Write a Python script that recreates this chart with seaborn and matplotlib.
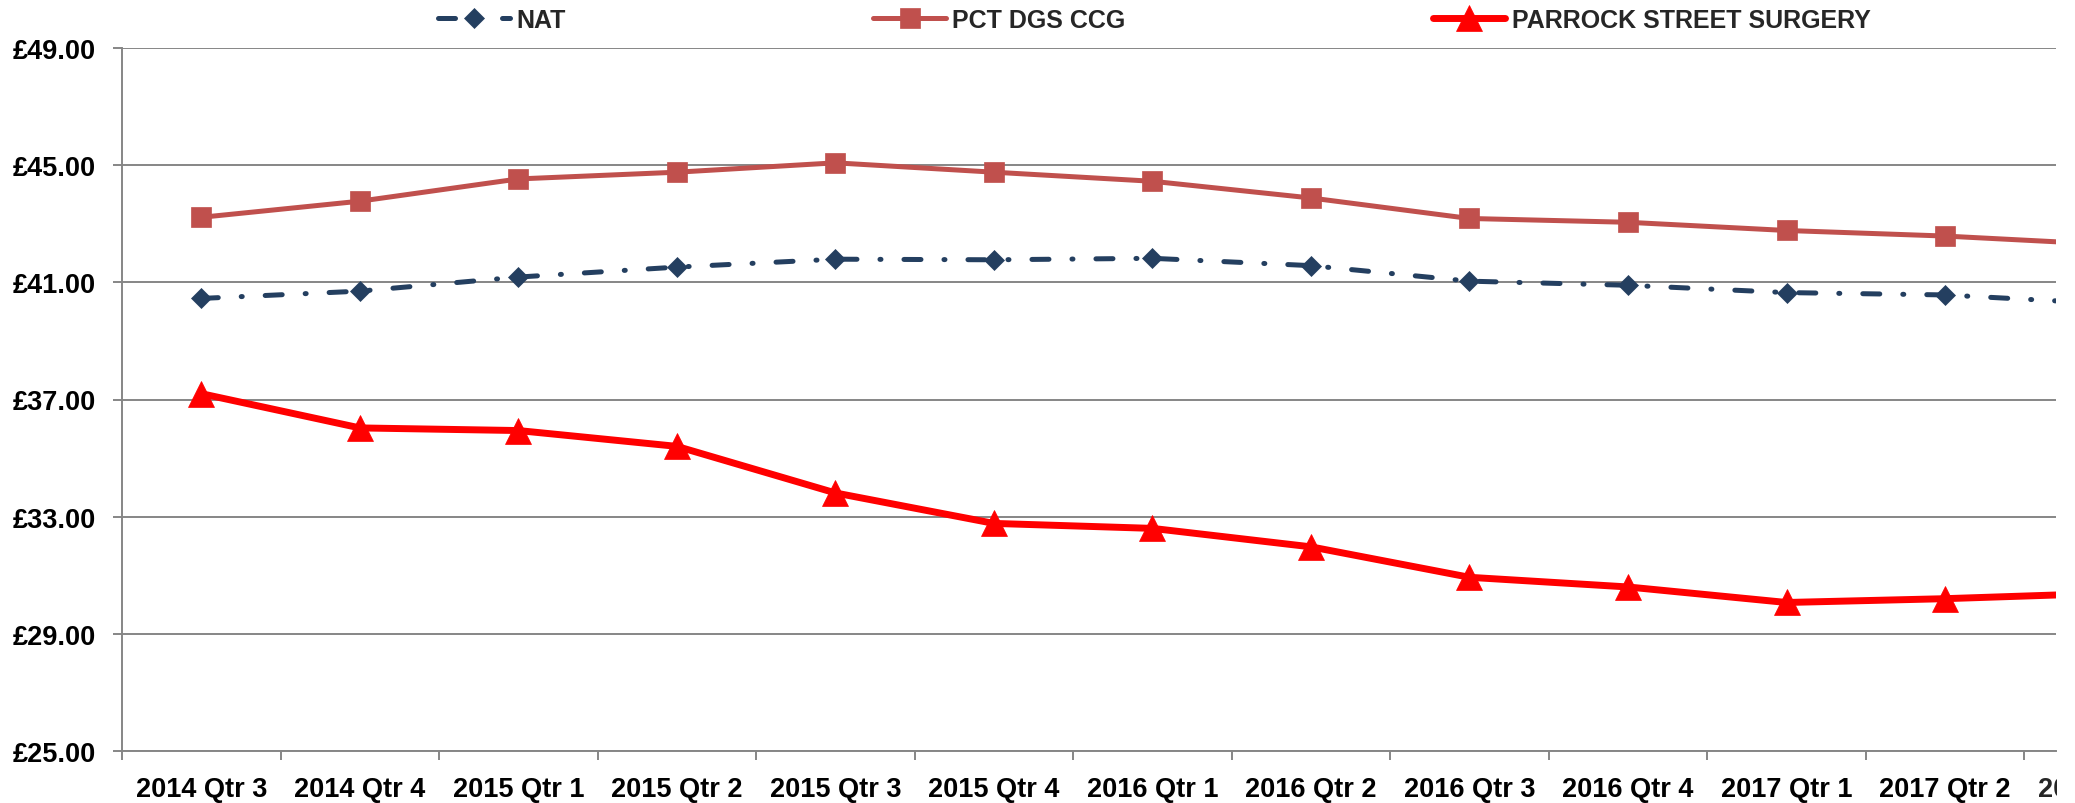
import matplotlib
matplotlib.use('Agg')
import matplotlib.pyplot as plt
from matplotlib.patches import Rectangle
import seaborn as sns
import numpy as np
import pandas as pd

# quarters (the last one is cut off at the right edge of the original chart)
quarters = ['2014 Qtr 3', '2014 Qtr 4', '2015 Qtr 1', '2015 Qtr 2', '2015 Qtr 3',
            '2015 Qtr 4', '2016 Qtr 1', '2016 Qtr 2', '2016 Qtr 3', '2016 Qtr 4',
            '2017 Qtr 1', '2017 Qtr 2', '2017 Qtr 3']

nat = [40.45, 40.70, 41.18, 41.52, 41.79, 41.77, 41.82, 41.57, 41.04, 40.90, 40.65, 40.57, 40.28]
pct = [43.22, 43.77, 44.53, 44.76, 45.08, 44.76, 44.45, 43.88, 43.18, 43.05, 42.77, 42.58, 42.30]
parrock = [37.20, 36.03, 35.94, 35.40, 33.81, 32.77, 32.60, 31.97, 30.93, 30.60, 30.07, 30.20, 30.38]

y_ticks = [25, 29, 33, 37, 41, 45, 49]

sns.set_theme(style='white')
plt.rcParams['font.family'] = ['Liberation Sans', 'DejaVu Sans']
plt.rcParams['font.weight'] = 'bold'

GRID = '#868686'
W, H = 2075, 804
TICK_FS = 19.5

fig = plt.figure(figsize=(W / 100, H / 100), dpi=100)
ax = fig.add_axes([122 / W, 1 - 752 / H, (2056 - 122) / W, (752 - 49) / H])

pos = np.arange(len(quarters))

sns.lineplot(x=pos, y=nat, ax=ax, color='#243F60', lw=3.6,
             linestyle=(0, (3.4, 4.6, 0.2, 4.6)), dash_capstyle='round',
             marker='D', markersize=9.7, markeredgecolor='#243F60',
             markeredgewidth=0.5, label='NAT', errorbar=None)
sns.lineplot(x=pos, y=pct, ax=ax, color='#C0504D', lw=3.6,
             marker='s', markersize=14, markeredgecolor='#C0504D',
             markeredgewidth=0.5, label='PCT DGS CCG', errorbar=None)
sns.lineplot(x=pos, y=parrock, ax=ax, color='#FF0000', lw=5,
             marker='^', markersize=19, markeredgecolor='#FF0000',
             markeredgewidth=0.5, label='PARROCK STREET SURGERY', errorbar=None)

handles, labels = ax.get_legend_handles_labels()
if ax.get_legend() is not None:
    ax.get_legend().remove()

ax.set_xlim(-0.5, 11.7)
ax.set_ylim(25, 49)

# y axis
ax.set_yticks(y_ticks)
ax.set_yticklabels([f'£{v:.2f}' for v in y_ticks], fontsize=TICK_FS, fontweight='bold')
ax.yaxis.grid(True, color=GRID, lw=1.4)
ax.xaxis.grid(False)
ax.tick_params(axis='y', length=6.5, width=1.4, color=GRID, direction='out',
               pad=12, left=True, labelcolor='black')

# x axis: tick marks between categories, labels at category centres
ax.set_xticks(np.arange(-0.5, 12, 1))
ax.set_xticklabels([])
ax.set_xticks(pos[:12], minor=True)
ax.set_xticklabels(quarters[:12], minor=True, fontsize=TICK_FS, fontweight='bold')
ax.tick_params(axis='x', which='major', length=6.5, width=1.4, color=GRID,
               direction='out', bottom=True)
ax.tick_params(axis='x', which='minor', length=0, pad=18, labelcolor='black')

# the cut-off label of the 13th quarter
ax.annotate(quarters[12], xy=(12, 0), xycoords=('data', 'axes fraction'),
            xytext=(0, -18), textcoords='offset points', ha='center',
            va='top', fontsize=TICK_FS, fontweight='bold', annotation_clip=False)

for side in ['top', 'right']:
    ax.spines[side].set_visible(False)
for side in ['left', 'bottom']:
    ax.spines[side].set_color(GRID)
    ax.spines[side].set_linewidth(1.4)

# the original picture is cropped just past the plot area
fig.add_artist(Rectangle((2057 / W, 0), 1 - 2057 / W, 1, transform=fig.transFigure,
                         facecolor='white', edgecolor='none', zorder=10))

fig.legend(handles, labels, loc='center', bbox_to_anchor=(1154 / W, 1 - 21 / H),
           ncol=3, frameon=False, handlelength=2.9,
           handletextpad=0.25, columnspacing=12.3, borderpad=0,
           prop={'weight': 'bold', 'size': 18})

fig.savefig('out.png', dpi=100)
